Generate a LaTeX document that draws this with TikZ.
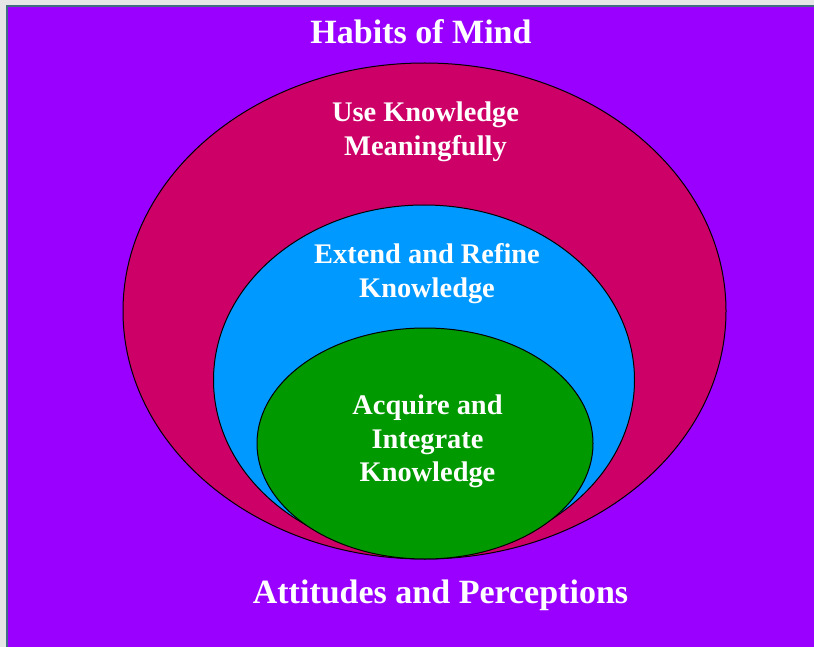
\documentclass[tikz,border=0pt]{standalone}
\usepackage{fontspec}
\setmainfont{Liberation Serif}
\definecolor{bgpurple}{HTML}{9900FF}
\definecolor{ringred}{HTML}{CC0066}
\definecolor{ringblue}{HTML}{0099FF}
\definecolor{ringgreen}{HTML}{009900}
\definecolor{framegray}{HTML}{E6E6E6}
\definecolor{frameteal}{HTML}{3F6F80}
\tikzset{
  ring/.style={draw=black, line width=1pt},
  bigtext/.style={text=white, font=\bfseries\fontsize{34}{40}\selectfont, anchor=base, inner sep=0pt},
  ringtext/.style={text=white, font=\bfseries\fontsize{28.4}{34}\selectfont, anchor=base, inner sep=0pt}
}
\begin{document}
\begin{tikzpicture}[x=1pt,y=-1pt]
\useasboundingbox (0,0) rectangle (814,647);
\fill[framegray] (0,0) rectangle (814,647);
\fill[frameteal] (5.5,5.5) rectangle (814,647);
\fill[bgpurple] (7.5,7.5) rectangle (814,647);
% rings
\filldraw[ring, fill=ringred] (424.5,311) ellipse [x radius=301.5, y radius=248];
\filldraw[ring, fill=ringblue] (424,380) ellipse [x radius=210.5, y radius=175];
\filldraw[ring, fill=ringgreen] (425,443.5) ellipse [x radius=168, y radius=115.5];
% labels
\node[bigtext] (habits) at (421,44) {Habits of Mind};
\node[bigtext] (attitudes) at (440.5,603) {Attitudes and Perceptions};
\node[ringtext] (use1) at (425.5,122) {Use Knowledge};
\node[ringtext] (use2) at (425.5,156) {Meaningfully};
\node[ringtext] (ext1) at (427,264) {Extend and Refine};
\node[ringtext] (ext2) at (427,298) {Knowledge};
\node[ringtext] (acq1) at (427.5,414) {Acquire and};
\node[ringtext] (acq2) at (427.5,448) {Integrate};
\node[ringtext] (acq3) at (427.5,481) {Knowledge};
\end{tikzpicture}
\end{document}
